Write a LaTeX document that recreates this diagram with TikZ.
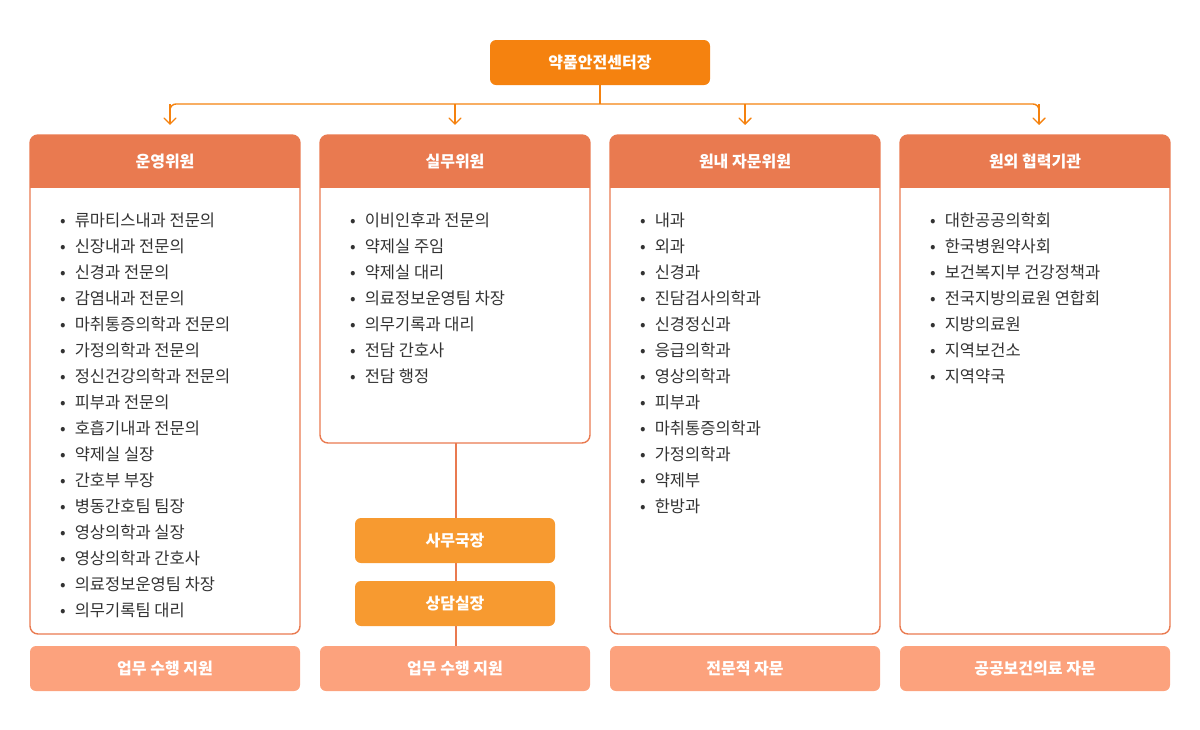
\documentclass[tikz,border=0pt]{standalone}
\usepackage{fontspec}
\setmainfont{Noto Sans CJK KR}
\usetikzlibrary{positioning}
\usetikzlibrary{shapes,arrows}
\definecolor{topor}{HTML}{F5820F}
\definecolor{heador}{HTML}{E97A50}
\definecolor{footor}{HTML}{FCA27D}
\definecolor{subor}{HTML}{F79A30}
\definecolor{txt}{HTML}{333333}
\tikzset{
  boxtext/.style={text=white, font=\bfseries\fontsize{16}{18}\selectfont},
  item/.style={anchor=west, text=txt, font=\fontsize{16.5}{18}\selectfont, inner sep=0pt},
  link/.style={draw=topor, line width=1.4pt}
}
\begin{document}
\begin{tikzpicture}[x=1pt,y=-1pt]
  \useasboundingbox (0,0) rectangle (1200,729);
  % top
  \fill[topor, rounded corners=6pt] (490,40) rectangle (710,85);
  \node[boxtext] (top) at (600,62.5) {약품안전센터장};
  \coordinate (topb) at (600,85);
  \coordinate (split) at (600,104);
  \draw[link, rounded corners=6pt] (170,124) -- (170,104) -- (1039,104) -- (1039,124);
  \draw[link] (topb) -- (split);
  \foreach \x in {170,455,745,1039}{
    \draw[link] (\x,104) -- (\x,124);
    \draw[link, line cap=round] (\x-6,118) -- (\x,124) -- (\x+6,118);
  }
  % columns
  \foreach \x/\name/\bot/\foot in {30/운영위원/634/업무 수행 지원, 320/실무위원/443/업무 수행 지원,
      610/원내 자문위원/634/전문적 자문, 900/원외 협력기관/634/공공보건의료 자문}{
    \begin{scope}
      \clip[rounded corners=8pt] (\x,135) rectangle (\x+270,\bot);
      \fill[heador] (\x,135) rectangle (\x+270,188);
    \end{scope}
    \draw[heador, line width=1.4pt, rounded corners=8pt] (\x,135) rectangle (\x+270,\bot);
    \node[boxtext] at (\x+135,161.5) {\name};
    \fill[footor, rounded corners=6pt] (\x,646) rectangle (\x+270,691);
    \node[boxtext] at (\x+135,668.5) {\foot};
  }
  % lists
  \foreach \t [count=\i from 0] in {류마티스내과 전문의, 신장내과 전문의, 신경과 전문의, 감염내과 전문의,
      마취통증의학과 전문의, 가정의학과 전문의, 정신건강의학과 전문의, 피부과 전문의, 호흡기내과 전문의,
      약제실 실장, 간호부 부장, 병동간호팀 팀장, 영상의학과 실장, 영상의학과 간호사,
      의료정보운영팀 차장, 의무기록팀 대리}
    \node[item] at (60,220+26*\i) {•\hspace{9pt}\t};
  \foreach \t [count=\i from 0] in {이비인후과 전문의, 약제실 주임, 약제실 대리, 의료정보운영팀 차장,
      의무기록과 대리, 전담 간호사, 전담 행정}
    \node[item] at (350,220+26*\i) {•\hspace{9pt}\t};
  \foreach \t [count=\i from 0] in {내과, 외과, 신경과, 진담검사의학과, 신경정신과, 응급의학과,
      영상의학과, 피부과, 마취통증의학과, 가정의학과, 약제부, 한방과}
    \node[item] at (640,220+26*\i) {•\hspace{9pt}\t};
  \foreach \t [count=\i from 0] in {대한공공의학회, 한국병원약사회, 보건복지부 건강정책과,
      전국지방의료원 연합회, 지방의료원, 지역보건소, 지역약국}
    \node[item] at (930,220+26*\i) {•\hspace{9pt}\t};
  % sub offices
  \coordinate (colb) at (456,443);
  \coordinate (foott) at (456,646);
  \draw[heador, line width=1.4pt] (colb) -- (foott);
  \fill[subor, rounded corners=6pt] (355,518) rectangle (555,563);
  \node[boxtext] (office) at (455,540.5) {사무국장};
  \fill[subor, rounded corners=6pt] (355,581) rectangle (555,626);
  \node[boxtext] (counsel) at (455,603.5) {상담실장};
\end{tikzpicture}
\end{document}
